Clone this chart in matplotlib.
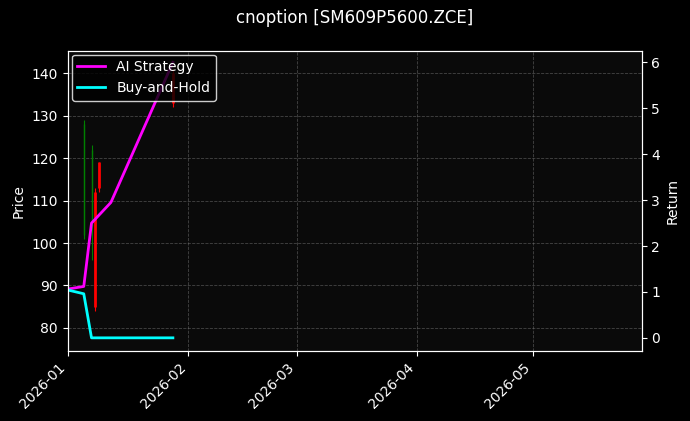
import matplotlib
matplotlib.use("Agg")
import matplotlib.pyplot as plt
import matplotlib.dates as mdates
import pandas as pd

c_dates = pd.to_datetime(["2026-01-05", "2026-01-07", "2026-01-08", "2026-01-09", "2026-01-28"])
c_open = [102, 104, 112, 119, 140]
c_close = [128, 122, 85, 113, 133]
c_high = [129, 123, 113, 119, 141]
c_low = [101, 96, 84, 112, 132]

r_dates = pd.to_datetime(["2025-12-31", "2026-01-05", "2026-01-07", "2026-01-12", "2026-01-28"])
ai_ret = [1.05, 1.12, 2.5, 2.95, 6.0]
bh_dates = pd.to_datetime(["2025-12-31", "2026-01-05", "2026-01-07", "2026-01-28"])
bh_ret = [1.06, 0.96, 0.0, 0.0]

plt.style.use("dark_background")
fig, ax = plt.subplots(figsize=(6.9, 4.21), dpi=100)
fig.patch.set_facecolor("black")
ax.set_facecolor("#0a0a0a")
for d, o, c, h, l in zip(c_dates, c_open, c_close, c_high, c_low):
    col = "green" if c >= o else "red"
    ax.vlines(d, l, h, color=col, linewidth=0.8)
    ax.vlines(d, min(o, c), max(o, c), color=col, linewidth=2 if col == "red" else 1)
ax.set_ylim(74.6, 145.4)
ax.set_ylabel("Price")
ax.set_xlim(pd.Timestamp("2025-12-31 20:00"), pd.Timestamp("2026-05-29"))
ax.grid(True, linestyle="--", color="grey", alpha=0.5, linewidth=0.6)
ax.xaxis.set_major_locator(mdates.MonthLocator())
ax.xaxis.set_major_formatter(mdates.DateFormatter("%Y-%m"))
plt.setp(ax.get_xticklabels(), rotation=45, ha="right")

ax2 = ax.twinx()
ax2.plot(r_dates, ai_ret, color="magenta", linewidth=2, label="AI Strategy")
ax2.plot(bh_dates, bh_ret, color="cyan", linewidth=2, label="Buy-and-Hold")
ax2.set_ylim(-0.28, 6.26)
ax2.set_ylabel("Return")
ax2.legend(loc="upper left", facecolor="black", edgecolor="white", borderaxespad=0.3)
ax.set_title("cnoption [SM609P5600.ZCE]", pad=20)
fig.subplots_adjust(left=0.098, right=0.93, top=0.88, bottom=0.167)
fig.savefig("out.png", facecolor="black")
